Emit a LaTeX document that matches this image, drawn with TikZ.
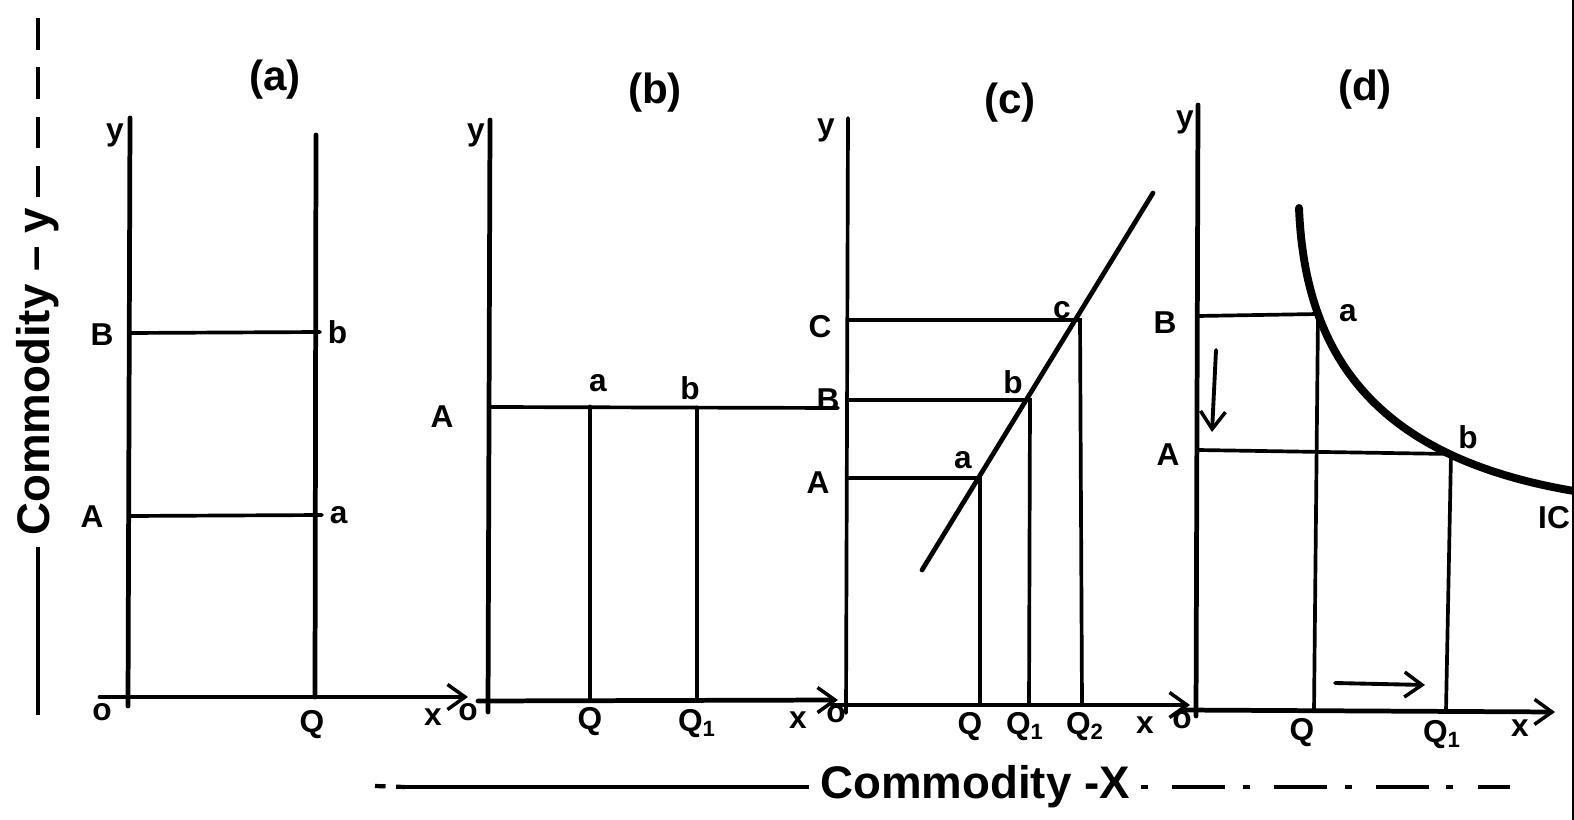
\documentclass[tikz,border=0pt]{standalone}
\usepackage{fontspec}
\setmainfont{Liberation Sans}
\usetikzlibrary{positioning,arrows.meta}

\begin{document}
\begin{tikzpicture}[
  x=0.02cm, y=-0.02cm,
  font=\fontsize{18}{20}\selectfont\bfseries,
  >={Straight Barb[length=3.5mm,width=5mm,line width=2pt]},
  title/.style={font=\fontsize{24}{26}\selectfont\bfseries},
  big/.style={font=\fontsize{26}{30}\selectfont\bfseries, inner sep=6pt},
  axis/.style={line width=2.7pt, line cap=round},
  guide/.style={line width=2.1pt, line cap=round},
  curve/.style={line width=4.5pt, line cap=round},
  link/.style={->, line width=2.2pt, line cap=round}
  ]
  \useasboundingbox (0,0) rectangle (1574,820);
  \clip (0,0) rectangle (1574,820);

  % Panel (a)
  \coordinate (ay)  at (130,118);
  \coordinate (ayb) at (128,706);
  \coordinate (axl) at (100,697);
  \coordinate (ax)  at (468,697);
  \coordinate (aqt) at (316,135);
  \coordinate (aq)  at (315,697);
  \coordinate (aB)  at (130,333);
  \coordinate (ab)  at (320,332);
  \coordinate (aA)  at (130,516);
  \coordinate (aa)  at (322,515);
  \node[title] (ta) at (275,80) {(a)};
  \node (ya) at (115,135) {y};
  \node (oa) at (102,712) {o};
  \node (Ba) at (102,335) {B};
  \node (Aa) at (92,517) {A};
  \node[right=1pt of ab] (lb) {b};
  \node[right=1pt of aa] (la) {a};
  \node (Qa) at (312,725) {Q};
  \node (xa) at (433,717) {x};

  % Panel (b)
  \coordinate (by)  at (490,120);
  \coordinate (byb) at (488,712);
  \coordinate (bxl) at (478,701);
  \coordinate (bx)  at (838,700);
  \coordinate (bA)  at (490,407);
  \coordinate (be)  at (838,408);
  \coordinate (ba)  at (590,407);
  \coordinate (bq)  at (590,700);
  \coordinate (bb)  at (697,408);
  \coordinate (bq1) at (697,700);
  \node[title] (tb) at (655,93) {(b)};
  \node (yb) at (476,135) {y};
  \node (ob) at (468,712) {o};
  \node (Ab) at (442,417) {A};
  \node (lba) at (598,383) {a};
  \node (lbb) at (690,388) {b};
  \node (Qb) at (590,722) {Q};
  \node (Q1b) at (697,724) {Q\textsubscript{1}};
  \node (xb) at (798,720) {x};

  % Panel (c)
  \coordinate (cy)  at (848,118);
  \coordinate (cyb) at (846,713);
  \coordinate (cxl) at (832,705);
  \coordinate (cx)  at (1190,705);
  \coordinate (cC)  at (848,320);
  \coordinate (cc)  at (1080,320);
  \coordinate (cB)  at (848,400);
  \coordinate (cb)  at (1030,400);
  \coordinate (cA)  at (848,478);
  \coordinate (ca)  at (980,478);
  \coordinate (cq)  at (980,705);
  \coordinate (cq1) at (1029,705);
  \coordinate (cq2) at (1082,705);
  \coordinate (cl0) at (922,570);
  \coordinate (cl1) at (1153,193);
  \node[title] (tc) at (1010,103) {(c)};
  \node (yc) at (826,130) {y};
  \node (oc) at (836,714) {o};
  \node (Cc) at (820,327) {C};
  \node (Bc) at (828,400) {B};
  \node (Ac) at (818,483) {A};
  \node (lca) at (963,460) {a};
  \node (lcb) at (1013,382) {b};
  \node (lcc) at (1062,310) {c};
  \node (Qc) at (970,727) {Q};
  \node (Q1c) at (1025,727) {Q\textsubscript{1}};
  \node (Q2c) at (1085,727) {Q\textsubscript{2}};
  \node (xc) at (1145,725) {x};

  % Panel (d)
  \coordinate (dy)  at (1198,105);
  \coordinate (dyb) at (1196,716);
  \coordinate (dxl) at (1182,710);
  \coordinate (dx)  at (1555,712);
  \coordinate (dB)  at (1198,316);
  \coordinate (da)  at (1318,314);
  \coordinate (dA)  at (1198,450);
  \coordinate (db)  at (1451,454);
  \coordinate (dq)  at (1314,710);
  \coordinate (dq1) at (1446,710);
  \coordinate (ic0) at (1299,208);
  \coordinate (ic1) at (1580,492);
  \coordinate (dn0) at (1216,350);
  \coordinate (dn1) at (1212,432);
  \coordinate (rt0) at (1335,683);
  \coordinate (rt1) at (1425,685);
  \node[title] (td) at (1365,90) {(d)};
  \node (yd) at (1185,122) {y};
  \node (od) at (1182,720) {o};
  \node (Bd) at (1165,323) {B};
  \node (Ad) at (1168,455) {A};
  \node (lda) at (1348,313) {a};
  \node (ldb) at (1468,437) {b};
  \node[inner sep=0pt] (ic) at (1554,518) {IC};
  \node (Qd) at (1302,733) {Q};
  \node (Q1d) at (1442,735) {Q\textsubscript{1}};
  \node (xd) at (1520,728) {x};

  % axis titles
  \node[big, rotate=90] (ylab) at (38,372) {Commodity -- y};
  \coordinate (ylo) at (38,715);
  \coordinate (yhi) at (38,8);
  \node[big] (xlab) at (975,787) {Commodity -X};
  \coordinate (xlo) at (405,787);
  \coordinate (xd0) at (375,786);
  \coordinate (xhi) at (1510,787);
  \coordinate (e0) at (1573,0);
  \coordinate (e1) at (1573,820);

  % edges
  \draw[axis] (ay) -- (ayb);
  \draw[axis, ->] (axl) -- (ax);
  \draw[axis] (aqt) -- (aq);
  \draw[guide] (aB) -- (ab);
  \draw[guide] (aA) -- (aa);

  \draw[axis] (by) -- (byb);
  \draw[axis, ->] (bxl) -- (bx);
  \draw[guide] (bA) -- (be);
  \draw[axis] (ba) -- (bq);
  \draw[axis] (bb) -- (bq1);

  \draw[guide] (cy) -- (cyb);
  \draw[axis, ->] (cxl) -- (cx);
  \draw[guide] (cC) -- (cc) -- (cq2);
  \draw[guide] (cB) -- (cb) -- (cq1);
  \draw[guide] (cA) -- (ca) -- (cq);
  \draw[axis] (cl0) -- (cl1);

  \draw[axis] (dy) -- (dyb);
  \draw[axis, ->] (dxl) -- (dx);
  \draw[guide] (dB) -- (da);
  \draw[guide] (dA) -- (db);
  \draw[guide] (da) -- (dq);
  \draw[guide] (db) -- (dq1);
  \draw[curve] (ic0) .. controls (1305,360) and (1380,460) .. (ic1);
  \draw[link] (dn0) -- (dn1);
  \draw[link] (rt0) -- (rt1);

  \draw[line width=2.4pt] (ylab.west) -- (ylo);
  \draw[line width=2.4pt, dash pattern=on 18pt off 10pt] (ylab.east) -- (yhi);
  \draw[line width=2.4pt] (xlab.west) -- (xlo);
  \draw[line width=2.4pt, dash pattern=on 6pt off 6pt] (xd0) -- (xlo);
  \draw[line width=2.4pt, dash pattern=on 4pt off 14pt on 30pt off 10pt] (xlab.east) -- (xhi);
  \draw[line width=1pt] (e0) -- (e1);
\end{tikzpicture}
\end{document}
